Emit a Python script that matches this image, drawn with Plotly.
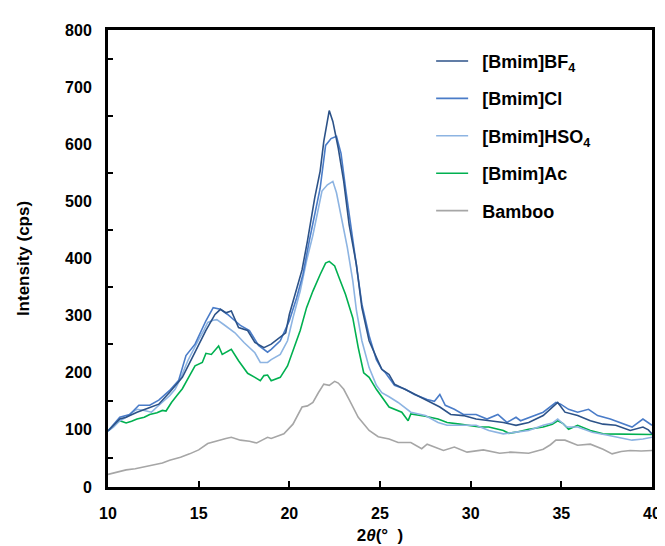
import plotly.graph_objects as go

# ---- data (2theta in degrees, intensity in cps) ----
bf4_x = [10, 10.3, 10.65, 11.0, 11.6, 12.2, 12.8, 13.4, 14.1, 14.8, 15.4, 15.9, 16.2, 16.5, 16.8, 17.2, 17.7, 18.1, 18.6, 19.0, 19.5, 19.8, 20.0, 20.4, 20.7, 21.0, 21.2, 21.4, 21.7, 21.9, 22.2, 22.4, 22.7, 23.0, 23.3, 23.7, 24.0, 24.4, 24.8, 25.1, 25.5, 25.8, 26.7, 27.6, 28.3, 28.9, 29.6, 30.3, 31.0, 31.8, 32.5, 33.2, 34.0, 34.6, 34.8, 35.2, 35.9, 36.6, 37.3, 38.0, 38.8, 39.5, 39.8, 40]
bf4_y = [98, 108, 119, 122, 131, 138, 145, 166, 192, 236, 274, 302, 311, 305, 308, 279, 274, 253, 244, 250, 262, 270, 302, 349, 380, 431, 471, 506, 553, 605, 659, 640, 593, 535, 459, 389, 314, 256, 227, 206, 197, 180, 166, 151, 140, 127, 125, 119, 116, 113, 108, 113, 125, 143, 148, 131, 125, 116, 110, 108, 99, 105, 100, 93]

cl_x = [10, 10.3, 10.65, 11.2, 11.7, 12.3, 12.8, 13.4, 13.9, 14.3, 14.8, 15.4, 15.8, 16.2, 16.6, 17.0, 17.3, 17.8, 18.3, 18.8, 19.0, 19.5, 20.0, 20.4, 20.75, 21.1, 21.4, 21.7, 22.0, 22.3, 22.6, 22.85, 23.1, 23.4, 23.7, 24.0, 24.4, 24.8, 25.1, 25.3, 25.8, 26.4, 26.9, 27.6, 28.0, 28.3, 28.6, 29.1, 29.6, 30.3, 30.9, 31.5, 32.0, 32.5, 32.75, 33.3, 34.0, 34.7, 34.96, 35.4, 35.9, 36.5, 37.0, 37.7, 38.4, 38.9, 39.5, 40]
cl_y = [98, 110, 122, 127, 143, 143, 152, 169, 187, 230, 250, 291, 314, 311, 302, 291, 283, 274, 248, 236, 241, 256, 291, 331, 372, 431, 480, 523, 598, 610, 614, 584, 523, 453, 389, 320, 265, 223, 206, 200, 178, 171, 162, 153, 150, 162, 143, 136, 127, 127, 119, 127, 113, 122, 116, 122, 131, 148, 145, 136, 131, 136, 125, 119, 110, 105, 119, 108]

hso4_x = [10, 10.3, 10.65, 11.0, 11.3, 11.6, 12.0, 12.4, 12.7, 13.0, 13.4, 13.7, 14.0, 14.4, 14.7, 15.0, 15.3, 15.5, 15.8, 16.0, 16.4, 17.0, 17.5, 18.1, 18.4, 18.8, 19.0, 19.5, 19.9, 20.2, 20.6, 20.95, 21.3, 21.6, 21.8, 22.1, 22.4, 22.6, 22.9, 23.2, 23.5, 23.7, 24.0, 24.4, 24.8, 25.1, 25.5, 26.0, 26.7, 27.5, 28.2, 28.7, 29.4, 30.3, 31.0, 31.8, 32.5, 33.2, 34.0, 34.5, 34.8, 35.3, 35.9, 36.7, 37.5, 38.2, 38.9, 39.5, 40]
hso4_y = [98, 105, 116, 122, 130, 136, 134, 131, 140, 148, 160, 171, 190, 221, 240, 258, 275, 288, 292, 293, 284, 270, 253, 235, 218, 218, 223, 232, 256, 296, 343, 396, 441, 488, 518, 529, 535, 515, 465, 419, 361, 309, 256, 209, 178, 165, 158, 148, 131, 125, 113, 108, 108, 108, 99, 93, 96, 99, 108, 112, 119, 105, 105, 96, 91, 87, 82, 84, 87]

ac_x = [10, 10.3, 10.65, 11.0, 11.3, 11.6, 12.0, 12.3, 12.7, 13.0, 13.2, 13.5, 13.8, 14.1, 14.5, 14.8, 15.2, 15.4, 15.7, 16.1, 16.3, 16.8, 17.2, 17.7, 18.1, 18.4, 18.6, 18.8, 19.0, 19.5, 19.9, 20.2, 20.6, 20.95, 21.3, 21.7, 22.0, 22.2, 22.5, 22.75, 23.1, 23.5, 23.8, 24.1, 24.4, 24.8, 25.1, 25.5, 26.2, 26.55, 26.7, 27.5, 28.2, 28.7, 29.4, 29.9, 30.5, 31.0, 31.8, 32.1, 32.5, 33.2, 34.0, 34.5, 34.8, 35.1, 35.4, 35.9, 36.6, 37.3, 38.0, 38.8, 39.5, 40]
ac_y = [98, 108, 116, 112, 115, 119, 122, 127, 130, 134, 133, 148, 160, 172, 195, 212, 218, 234, 232, 247, 232, 241, 221, 199, 192, 186, 195, 196, 186, 192, 212, 239, 274, 314, 343, 372, 392, 395, 387, 366, 337, 296, 244, 200, 192, 171, 157, 140, 131, 116, 128, 124, 119, 113, 110, 108, 105, 105, 99, 94, 96, 101, 105, 110, 116, 111, 101, 108, 99, 93, 93, 93, 93, 92]

bamboo_x = [10, 10.5, 11, 11.5, 12, 12.5, 13, 13.4, 14, 14.5, 15, 15.5, 16.1, 16.5, 16.8, 17.3, 17.8, 18.2, 18.5, 18.8, 19.0, 19.4, 19.7, 20.2, 20.7, 21.0, 21.3, 21.6, 21.9, 22.2, 22.5, 22.7, 23.0, 23.3, 23.8, 24.4, 24.9, 25.5, 26.0, 26.7, 27.3, 27.6, 28.5, 29.1, 29.8, 30.7, 31.6, 32.2, 33.2, 34.0, 34.4, 34.7, 35.2, 35.9, 36.6, 37.3, 37.8, 38.3, 38.8, 39.4, 40]
bamboo_y = [22, 26, 30, 32, 35, 38, 42, 47, 52, 58, 65, 76, 82, 85, 87, 82, 80, 77, 82, 87, 85, 90, 93, 110, 140, 142, 148, 165, 180, 178, 185, 182, 171, 153, 122, 99, 88, 84, 78, 78, 67, 75, 64, 70, 61, 65, 59, 61, 59, 66, 74, 82, 82, 73, 75, 66, 58, 62, 64, 63, 64]

names = ["[Bmim]BF<sub>4</sub>", "[Bmim]Cl", "[Bmim]HSO<sub>4</sub>", "[Bmim]Ac", "Bamboo"]
colors = ["#2C5288", "#4A7CC8", "#8DB4E2", "#00B050", "#A6A6A6"]
xs = [bf4_x, cl_x, hso4_x, ac_x, bamboo_x]
ys = [bf4_y, cl_y, hso4_y, ac_y, bamboo_y]

x_ticks = [10, 15, 20, 25, 30, 35, 40]
y_ticks = [0, 100, 200, 300, 400, 500, 600, 700, 800]
y_minor = [50, 150, 250, 350, 450, 550, 650, 750]

FONT = "Liberation Sans, Arial, sans-serif"

fig = go.Figure()
# draw in reverse so BF4 ends on top
for i in reversed(range(len(names))):
    fig.add_trace(go.Scatter(
        x=xs[i], y=ys[i], mode="lines", name="\u2002" + names[i],
        line=dict(color=colors[i], width=1.6),
        legendgroup=f"g{i}", legendrank=i + 1,
    ))

fig.update_layout(
    width=665, height=546,
    margin=dict(l=100, r=12, t=22, b=66),
    paper_bgcolor="white", plot_bgcolor="white",
    font=dict(family=FONT, size=16, color="black", weight="bold"),
    showlegend=True,
    legend=dict(
        x=0.594, y=0.972, xanchor="left", yanchor="top",
        bgcolor="rgba(0,0,0,0)", borderwidth=0, itemwidth=32,
        font=dict(family=FONT, size=18, color="black", weight="bold"),
        tracegroupgap=11, traceorder="grouped",
    ),
    xaxis=dict(
        range=[10, 40], tickvals=x_ticks, ticktext=[str(v) for v in x_ticks],
        ticks="inside", ticklen=6, tickwidth=1.5, tickcolor="black",
        showline=True, linecolor="black", linewidth=3, mirror=True,
        showgrid=False, zeroline=False, ticklabelstandoff=10,
        tickfont=dict(family=FONT, size=16, weight="bold"),
        title=dict(text="2<i>θ</i>(°\u00a0\u00a0)", standoff=8,
                   font=dict(family=FONT, size=17, weight="bold")),
    ),
    yaxis=dict(
        range=[0, 800], tickvals=y_ticks, ticktext=[str(v) for v in y_ticks],
        ticks="", showline=True, linecolor="black", linewidth=3, mirror=True,
        showgrid=False, zeroline=False, ticklabelstandoff=10,
        minor=dict(tickvals=y_minor, ticks="inside", ticklen=5, tickwidth=1.5,
                   tickcolor="black", showgrid=False),
        tickfont=dict(family=FONT, size=16, weight="bold"),
        title=dict(text="Intensity (cps)", standoff=32,
                   font=dict(family=FONT, size=17, weight="bold")),
    ),
)

fig.write_html("out.html")
